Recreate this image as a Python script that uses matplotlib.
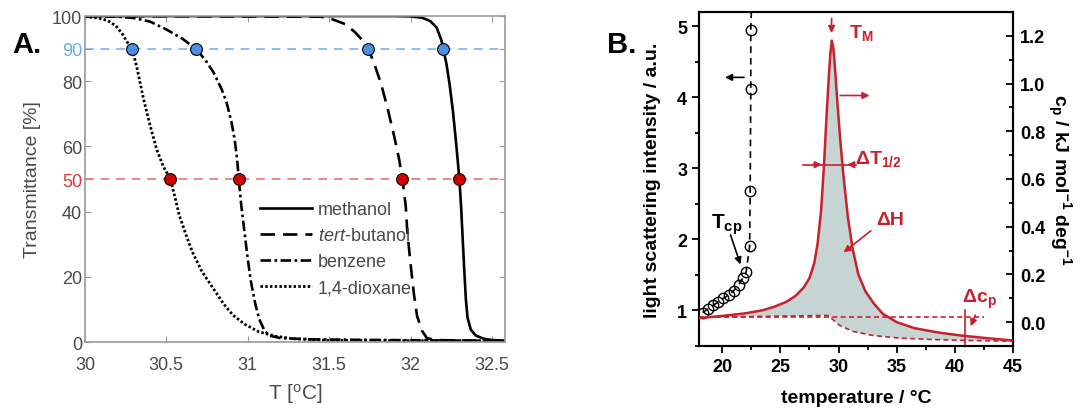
import numpy as np
import matplotlib
matplotlib.use("Agg")
import matplotlib.pyplot as plt
from matplotlib.ticker import MultipleLocator

plt.rcParams['font.family'] = ['Liberation Sans', 'DejaVu Sans']
plt.rcParams['mathtext.fontset'] = 'custom'
plt.rcParams['mathtext.rm'] = 'Liberation Sans'
plt.rcParams['mathtext.it'] = 'Liberation Sans:italic'
plt.rcParams['mathtext.bf'] = 'Liberation Sans:bold'

# ---- panel A: transmittance curves ----
T_meth = [30.0, 31.9, 32.0, 32.07, 32.12, 32.16, 32.19, 32.2, 32.22, 32.24, 32.26, 32.28, 32.3,
          32.31, 32.32, 32.33, 32.34, 32.35, 32.37, 32.4, 32.45, 32.5, 32.58]
tr_meth = [100, 100, 99.9, 99.5, 98.5, 96.5, 92.5, 90, 85.5, 79, 71, 61, 50,
           42, 32, 22, 13, 7.5, 3.8, 2.0, 1.0, 0.6, 0.4]
T_tbut = [30.0, 31.45, 31.52, 31.6, 31.66, 31.7, 31.74, 31.78, 31.82, 31.86, 31.9, 31.93, 31.95,
          31.97, 31.98, 32.0, 32.02, 32.04, 32.07, 32.1, 32.15, 32.58]
tr_tbut = [100, 99.8, 99, 97.5, 95, 92.8, 90, 85, 79, 71.5, 63, 56, 50,
           42, 34, 24, 15, 8, 3.5, 1.2, 0.6, 0.3]
T_benz = [30.0, 30.2, 30.3, 30.4, 30.5, 30.6, 30.68, 30.74, 30.79, 30.84, 30.87, 30.9, 30.92,
          30.935, 30.945, 30.96, 30.98, 31.0, 31.02, 31.045, 31.07, 31.1, 31.13, 31.2, 31.4, 32.58]
tr_benz = [100, 99.8, 99.4, 98.3, 95.9, 93, 90, 86.5, 82.7, 77.5, 73.5, 67.5, 62,
           56, 50, 42, 33.7, 25.5, 18.4, 12, 7.1, 3.8, 2.0, 1.2, 0.8, 0.3]
T_diox = [30.0, 30.08, 30.14, 30.19, 30.23, 30.26, 30.29, 30.32, 30.36, 30.4, 30.44, 30.48, 30.525,
          30.55, 30.58, 30.62, 30.66, 30.72, 30.79, 30.85, 30.91, 30.98, 31.07, 31.17, 31.28, 31.5, 32.58]
tr_diox = [99.8, 99.4, 98.6, 97, 94.5, 92, 90, 84, 74.5, 66.5, 59.2, 54, 50,
           45, 38.8, 33, 27.6, 21.5, 16.3, 11.8, 8.2, 5.5, 3.1, 1.8, 1.0, 0.5, 0.3]
T_at90 = [30.29, 30.68, 31.74, 32.2]
T_at50 = [30.525, 30.945, 31.95, 32.3]

# ---- panel B: DSC and light scattering ----
T_cp = [18, 20, 22, 23.5, 24.5, 25.5, 26.3, 27, 27.5, 27.9, 28.2, 28.5, 28.75, 28.95, 29.15, 29.3,
        29.42, 29.55, 29.7, 29.9, 30.15, 30.45, 30.8, 31.2, 31.7, 32.3, 33.0, 33.8, 35.0, 36.5,
        38.5, 40.5, 42.7, 45]
cp = [0.017, 0.026, 0.037, 0.05, 0.065, 0.085, 0.11, 0.145, 0.185, 0.245, 0.33, 0.47, 0.66, 0.85,
      1.02, 1.13, 1.18, 1.15, 1.06, 0.92, 0.76, 0.6, 0.44, 0.31, 0.2, 0.13, 0.08, 0.035, 0.0,
      -0.025, -0.043, -0.056, -0.067, -0.077]
T_base = [18, 29.1, 30.1, 31.24, 32.96, 35.25, 38.1, 41.27, 45]
cp_base = [0.02, 0.028, -0.014, -0.039, -0.056, -0.067, -0.073, -0.077, -0.08]
T_flat = [18, 42.5]
cp_flat = [0.02, 0.02]
T_ls = [18.3, 18.75, 19.2, 19.65, 20.1, 20.55, 21.0, 21.4, 21.75, 22.05, 22.35, 22.4, 22.45, 22.45]
ls = [0.97, 1.02, 1.07, 1.12, 1.17, 1.22, 1.28, 1.36, 1.45, 1.54, 1.9, 2.68, 4.12, 4.95]
T_ls_top = [22.45, 22.5]
ls_top = [4.95, 5.2]

red = '#c8202c'

fig = plt.figure(figsize=(10.89, 4.10), dpi=100)

# ================= panel A =================
ax = fig.add_axes([0.078, 0.1634, 0.3857, 0.795])
gray = '#9a9a9a'
ax.axhline(90, color='#8cbcf5', lw=1.4, ls=(0, (4.5, 3.5)), zorder=1)
ax.axhline(50, color='#ef8585', lw=1.4, ls=(0, (4.5, 3.5)), zorder=1)
ax.plot(T_meth, tr_meth, color='k', lw=1.9, label='methanol')
ax.plot(T_tbut, tr_tbut, color='k', lw=1.9, ls=(0, (5.5, 3)), label=r'$\mathit{tert}$-butanol')
ax.plot(T_benz, tr_benz, color='k', lw=1.9, ls=(0, (4, 1.3, 1, 1.3)), label='benzene')
ax.plot(T_diox, tr_diox, color='k', lw=2.0, ls=(0, (0.9, 0.8)), label='1,4-dioxane')
ax.plot(T_at90, [90] * 4, 'o', ms=8.5, mfc='#4a90e2', mec='k', mew=0.8, zorder=5)
ax.plot(T_at50, [50] * 4, 'o', ms=8.5, mfc='#d40000', mec='k', mew=0.8, zorder=5)
ax.set_xlim(30, 32.58)
ax.set_ylim(0, 100)
ax.set_xticks([30, 30.5, 31, 31.5, 32, 32.5])
ax.set_xticklabels(['30', '30.5', '31', '31.5', '32', '32.5'])
ax.set_yticks([0, 20, 40, 50, 60, 80, 90, 100])
for spine in ax.spines.values():
    spine.set_color(gray)
    spine.set_linewidth(1.2)
ax.tick_params(direction='in', length=4, color=gray, labelcolor='#4a4a4a', labelsize=13,
               top=True, right=True)
ax.tick_params(axis='x', pad=10)
ax.tick_params(axis='y', pad=2)
for lab in ax.get_yticklabels():
    if lab.get_text() == '90':
        lab.set_color('#6aa8f0')
    elif lab.get_text() == '50':
        lab.set_color('#e03838')
ax.set_ylabel('Transmittance [%]', fontsize=14, color='#4a4a4a', labelpad=8)
ax.set_xlabel(r'T [$^\mathregular{o}$C]', fontsize=15, color='#4a4a4a', labelpad=6)
leg = ax.legend(loc='upper left', bbox_to_anchor=(0.395, 0.46), frameon=False, fontsize=13,
                handlelength=2.9, labelspacing=0.5, borderpad=0, handletextpad=0.3)
for t in leg.get_texts():
    t.set_color('#4a4a4a')
fig.text(0.011, 0.87, 'A.', fontsize=21, fontweight='bold')

# ================= panel B =================
axb = fig.add_axes([0.6419, 0.1537, 0.2883, 0.8146])
axr = axb.twinx()

axr.fill(T_cp + T_base[::-1], cp + cp_base[::-1], color='#c7d4d4', lw=0, zorder=1)
axr.plot(T_flat, cp_flat, color=red, lw=1.2, ls=(0, (3, 2)), zorder=2)
axr.plot(T_base, cp_base, color=red, lw=1.2, ls=(0, (3, 2)), zorder=2)
axr.plot(T_cp, cp, color=red, lw=1.8, zorder=3)

axb.plot(T_ls, ls, color='k', lw=1.2, ls=(0, (4, 3)), marker='o', ms=7.5, mfc='none', mec='k', mew=1.0)
axb.plot(T_ls_top, ls_top, color='k', lw=1.2, ls=(0, (4, 3)))

axb.set_xlim(18, 45)
axb.set_ylim(0.5, 5.2)
axr.set_ylim(-0.1, 1.3)
axb.set_xticks([20, 25, 30, 35, 40, 45])
axb.set_yticks([1, 2, 3, 4, 5])
axr.set_yticks([0.0, 0.2, 0.4, 0.6, 0.8, 1.0, 1.2])
axr.set_yticklabels(['0.0', '0.2', '0.4', '0.6', '0.8', '1.0', '1.2'])
axb.xaxis.set_minor_locator(MultipleLocator(2.5))
axb.yaxis.set_minor_locator(MultipleLocator(0.5))
axr.yaxis.set_minor_locator(MultipleLocator(0.1))
for a in (axb, axr):
    for spine in a.spines.values():
        spine.set_linewidth(1.5)
axb.tick_params(which='both', direction='out', width=1.3, labelsize=13)
axb.tick_params(which='major', length=5)
axb.tick_params(which='minor', length=3)
axr.tick_params(which='both', direction='in', width=1.3, labelsize=13, pad=5)
axr.tick_params(which='major', length=5)
axr.tick_params(which='minor', length=3)
for lab in axb.get_xticklabels() + axb.get_yticklabels() + axr.get_yticklabels():
    lab.set_fontweight('bold')

axb.set_xlabel('temperature / °C', fontsize=14, fontweight='bold', labelpad=10)
axb.set_ylabel('light scattering intensity / a.u.', fontsize=14, fontweight='bold', labelpad=12)
axr.set_ylabel(r'c$_\mathbf{p}$ / kJ mol$^\mathbf{-1}$ deg$^\mathbf{-1}$', fontsize=14,
               fontweight='bold', rotation=270, labelpad=20)

arr_k = dict(arrowstyle='-|>', color='k', lw=1.2, mutation_scale=10)
arr_r = dict(arrowstyle='-|>', color=red, lw=1.2, mutation_scale=10)
axb.annotate('', xy=(20.0, 4.28), xytext=(22.1, 4.28), arrowprops=arr_k)
axb.annotate('', xy=(21.64, 1.61), xytext=(20.63, 2.1), arrowprops=arr_k)
axb.text(19.0, 2.22, r'T$_\mathbf{cp}$', fontsize=15, fontweight='bold', va='center')

axr.annotate('', xy=(32.9, 0.95), xytext=(29.9, 0.95), arrowprops=arr_r)
axr.annotate('', xy=(29.4, 1.2), xytext=(29.4, 1.285), arrowprops=arr_r)
axr.text(30.9, 1.215, r'T$_\mathbf{M}$', fontsize=14, fontweight='bold', color=red, va='center')
axr.plot([26.9, 31.5], [0.66, 0.66], color=red, lw=1.2)
axr.annotate('', xy=(28.8, 0.66), xytext=(27.5, 0.66), arrowprops=arr_r)
axr.annotate('', xy=(30.5, 0.66), xytext=(31.5, 0.66), arrowprops=arr_r)
axr.text(31.4, 0.69, r'ΔT$_\mathbf{1/2}$', fontsize=14, fontweight='bold', color=red, va='center')
axr.annotate('', xy=(30.24, 0.285), xytext=(32.96, 0.39), arrowprops=arr_r)
axr.text(33.2, 0.43, 'ΔH', fontsize=14, fontweight='bold', color=red, va='center')
axr.plot([40.85, 40.85], [0.05, -0.1], color=red, lw=1.2)
axr.annotate('', xy=(41.27, -0.028), xytext=(41.85, 0.04), arrowprops=arr_r)
axr.text(40.6, 0.1, r'Δc$_\mathbf{p}$', fontsize=14, fontweight='bold', color=red, va='center')

fig.text(0.557, 0.87, 'B.', fontsize=21, fontweight='bold')

fig.savefig('out.png', dpi=100)
